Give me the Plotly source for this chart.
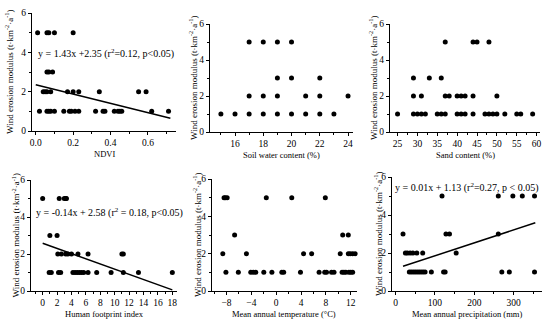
import plotly.graph_objects as go

# ---------------- data ----------------
ndvi_x = [0.01, 0.06, 0.07, 0.10, 0.20,
          0.06, 0.07, 0.09,
          0.04, 0.05, 0.06, 0.08, 0.17, 0.20, 0.23, 0.34, 0.55, 0.59,
          0.02, 0.06, 0.07, 0.08, 0.10, 0.15, 0.18, 0.19, 0.21, 0.23, 0.32, 0.36, 0.37, 0.42, 0.44, 0.45, 0.46, 0.62, 0.71]
ndvi_y = [5, 5, 5, 5, 5,
          3, 3, 3,
          2, 2, 2, 2, 2, 2, 2, 2, 2, 2,
          1, 1, 1, 1, 1, 1, 1, 1, 1, 1, 1, 1, 1, 1, 1, 1, 1, 1, 1]
ndvi_fit_x = [0.0, 0.72]
ndvi_fit_y = [2.35, 0.65]

swc_x = [17, 18, 19, 20,
         19, 20, 22,
         17, 18, 19, 21, 22, 24,
         15, 16, 17, 18, 19, 20, 21, 22, 23]
swc_y = [5, 5, 5, 5,
         3, 3, 3,
         2, 2, 2, 2, 2, 2,
         1, 1, 1, 1, 1, 1, 1, 1, 1]

sand_x = [37, 44, 45, 48,
          29, 33, 36,
          29, 31, 37, 38, 40, 41, 42, 44, 50,
          25, 29, 30, 31, 32, 35, 36, 37, 40, 41, 42, 44, 47, 48, 49, 50, 52, 55, 56, 59]
sand_y = [5, 5, 5, 5,
          3, 3, 3,
          2, 2, 2, 2, 2, 2, 2, 2, 2,
          1, 1, 1, 1, 1, 1, 1, 1, 1, 1, 1, 1, 1, 1, 1, 1, 1, 1, 1, 1]

hfp_x = [0.0, 2.3, 3.0, 3.2, 3.3,
         1.0, 2.0,
         2.1, 2.6, 3.2, 3.5, 4.0, 4.9, 6.3, 11.0, 11.2,
         0.9, 1.2, 2.2, 2.5, 4.2, 4.5, 4.8, 5.1, 5.4, 5.7, 6.3, 7.5, 9.5, 11.2, 13.3, 18.0]
hfp_y = [5, 5, 5, 5, 5,
         3, 3,
         2, 2, 2, 2, 2, 2, 2, 2, 2,
         1, 1, 1, 1, 1, 1, 1, 1, 1, 1, 1, 1, 1, 1, 1, 1]
hfp_fit_x = [0.0, 18.0]
hfp_fit_y = [2.58, 0.06]

mat_x = [-8.4, -8.2, -7.9, -1.6, 2.5, 7.9,
         -6.7, 10.7, 11.6,
         -8.6, -4.8, 4.4, 5.7, 10.3, 11.6, 11.9, 12.3, 12.7,
         -8.1, -6.1, -4.1, -3.7, -3.3, -2.0, -0.7, 0.9, 1.2, 3.9, 6.9, 7.8, 8.1, 8.9, 9.3,
         10.6, 10.9, 11.2, 11.7, 12.0, 12.3]
mat_y = [5, 5, 5, 5, 5, 5,
         3, 3, 3,
         2, 2, 2, 2, 2, 2, 2, 2, 2,
         1, 1, 1, 1, 1, 1, 1, 1, 1, 1, 1, 1, 1, 1, 1,
         1, 1, 1, 1, 1, 1]

map_x = [118, 261, 298, 322, 353,
         19, 128, 137, 261,
         25, 30, 37, 44, 54, 69, 154,
         35, 40, 45, 50, 55, 60, 65, 70, 75, 91, 122, 126, 270, 289, 353]
map_y = [5, 5, 5, 5, 5,
         3, 3, 3, 3,
         2, 2, 2, 2, 2, 2, 2,
         1, 1, 1, 1, 1, 1, 1, 1, 1, 1, 1, 1, 1, 1, 1]
map_fit_x = [19, 355]
map_fit_y = [1.30, 3.59]

y_title = "Wind erosion modulus (t·km<sup>-2</sup>·a<sup>-1</sup>)"
x_titles = ["NDVI", "Soil water content (%)", "Sand content (%)",
            "Human footprint index", "Mean annual temperature (\u00b0C)",
            "Mean annual precipitation (mm)"]
equations = ["y = 1.43x +2.35 (r<sup>2</sup>=0.12, p<0.05)",
             "y = -0.14x + 2.58 (r<sup>2</sup> = 0.18, p<0.05)",
             "y = 0.01x + 1.13 (r<sup>2</sup>=0.27, p < 0.05)"]

# ---------------- layout helpers ----------------
W, H = 550, 323
FONT = "Liberation Serif, Times New Roman, serif"

# pixel boxes: (left, right, top, bottom)
boxes = [(32, 176, 13, 131), (210, 353, 24, 132), (390, 540, 24, 132),
         (31, 177, 180, 291), (212, 357, 179, 291), (392, 542, 177, 291)]
ytitle_off = [23, 17, 17, 16, 15, 14]
xranges = [[-0.02, 0.75], [14.23, 24.35], [23.1, 60.85],
           [-1.62, 18.65], [-10.34, 13.0], [-9, 372]]
xdticks = [0.2, 2, 5, 2, 4, 100]
xminor = [0.1, 1, 2.5, 1, 2, 50]
x0ticks = [0, 16, 25, 0, -8, 0]
xfmt = [".1f", "d", "d", "d", "d", "d"]

datasets = [(ndvi_x, ndvi_y), (swc_x, swc_y), (sand_x, sand_y),
            (hfp_x, hfp_y), (mat_x, mat_y), (map_x, map_y)]
fits = {0: (ndvi_fit_x, ndvi_fit_y), 3: (hfp_fit_x, hfp_fit_y), 5: (map_fit_x, map_fit_y)}

fig = go.Figure()
annotations = []

for i, (xs, ys) in enumerate(datasets):
    n = i + 1
    xa = "x" if n == 1 else f"x{n}"
    ya = "y" if n == 1 else f"y{n}"
    fig.add_trace(go.Scatter(x=xs, y=ys, mode="markers", xaxis=xa, yaxis=ya,
                             marker=dict(color="black", size=5), showlegend=False,
                             cliponaxis=False))
    if i in fits:
        fx, fy = fits[i]
        fig.add_trace(go.Scatter(x=fx, y=fy, mode="lines", xaxis=xa, yaxis=ya,
                                 line=dict(color="black", width=1.5), showlegend=False))
    l, r, t, b = boxes[i]
    common = dict(showline=True, linecolor="black", linewidth=1, ticks="outside",
                  ticklen=3, tickwidth=1, tickcolor="black", showgrid=False,
                  zeroline=False, automargin=False,
                  tickfont=dict(family=FONT, size=9.5, color="black"),
                  minor=dict(ticks="outside", ticklen=2, tickwidth=1, tickcolor="black"))
    xkey = "xaxis" if n == 1 else f"xaxis{n}"
    ykey = "yaxis" if n == 1 else f"yaxis{n}"
    fig.update_layout({
        xkey: dict(domain=[l / W, r / W], range=xranges[i], anchor=ya,
                   tick0=x0ticks[i], dtick=xdticks[i], tickformat=xfmt[i],
                   minor_dtick=xminor[i], minor_tick0=x0ticks[i], **common),
        ykey: dict(domain=[1 - b / H, 1 - t / H], range=[0, 6], anchor=xa,
                   tick0=0, dtick=2, minor_dtick=1, **common),
    })
    # y-axis title
    annotations.append(dict(text=y_title, textangle=-90, xref="paper", yref="paper",
                            x=(l - ytitle_off[i]) / W, y=1 - ((t + b) / 2) / H,
                            xanchor="center", yanchor="middle", showarrow=False,
                            font=dict(family=FONT, size=9, color="black")))
    # x-axis title
    annotations.append(dict(text=x_titles[i], xref="paper", yref="paper",
                            x=((l + r) / 2) / W, y=1 - (b + 23) / H,
                            xanchor="center", yanchor="middle", showarrow=False,
                            font=dict(family=FONT, size=8.5, color="black")))

eq_pos = [(37, 53), (35, 213), (394, 187)]
for k, (px, py) in enumerate(eq_pos):
    annotations.append(dict(text=equations[k], xref="paper", yref="paper",
                            x=px / W, y=1 - py / H, xanchor="left", yanchor="middle",
                            showarrow=False, borderpad=0,
                            font=dict(family=FONT, size=10, color="black")))

fig.update_layout(width=W, height=H, margin=dict(l=0, r=0, t=0, b=0),
                  paper_bgcolor="white", plot_bgcolor="white",
                  annotations=annotations)

fig.write_html("out.html", config={"displayModeBar": False},
               post_script="document.body.style.margin='0';document.body.style.overflow='hidden';")
